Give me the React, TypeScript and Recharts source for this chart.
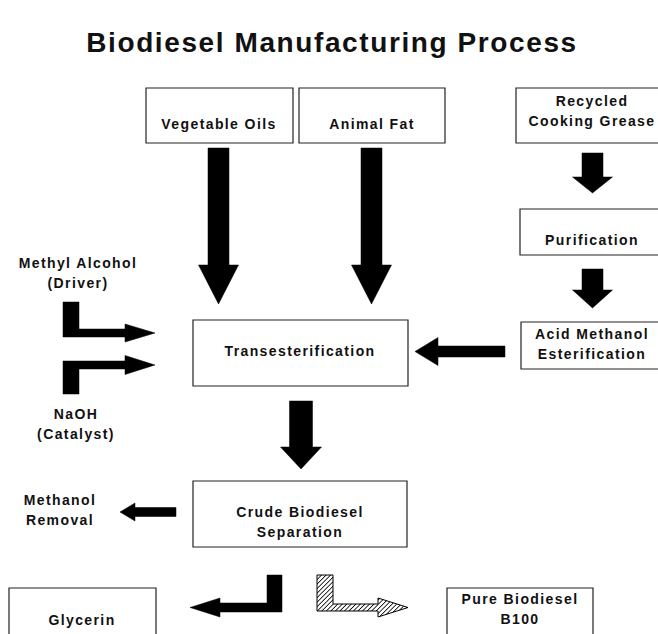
import React from 'react';
import { ScatterChart, Scatter, XAxis, YAxis, ReferenceArea, ReferenceDot } from 'recharts';

const W = 658;
const H = 634;

const title = 'Biodiesel Manufacturing Process';

// process boxes, page units with the origin top left
const boxes = [
  { id: 'veg', x1: 146, x2: 293, y1: 88, y2: 143 },
  { id: 'fat', x1: 299, x2: 445, y1: 88, y2: 143 },
  { id: 'grease', x1: 516, x2: 668, y1: 88, y2: 143 },
  { id: 'purif', x1: 520, x2: 668, y1: 209, y2: 255 },
  { id: 'acid', x1: 521, x2: 668, y1: 322, y2: 369 },
  { id: 'trans', x1: 193, x2: 408, y1: 320, y2: 386 },
  { id: 'crude', x1: 193, x2: 407, y1: 481, y2: 547 },
  { id: 'glyc', x1: 9, x2: 156, y1: 588, y2: 660 },
  { id: 'b100', x1: 447, x2: 593, y1: 588, y2: 660 },
];

// text blocks: x = centre, y = middle of the first line
const labels = [
  { lines: ['Vegetable Oils'], x: 219, y: 124 },
  { lines: ['Animal Fat'], x: 372, y: 124 },
  { lines: ['Recycled', 'Cooking Grease'], x: 592, y: 101 },
  { lines: ['Purification'], x: 592, y: 240 },
  { lines: ['Acid Methanol', 'Esterification'], x: 592, y: 334 },
  { lines: ['Transesterification'], x: 300, y: 351 },
  { lines: ['Crude Biodiesel', 'Separation'], x: 300, y: 512 },
  { lines: ['Glycerin'], x: 82, y: 620 },
  { lines: ['Pure Biodiesel', 'B100'], x: 520, y: 599 },
  { lines: ['Methyl Alcohol', '(Driver)'], x: 78, y: 263 },
  { lines: ['NaOH', '(Catalyst)'], x: 76, y: 414 },
  { lines: ['Methanol', 'Removal'], x: 60, y: 500 },
];

// straight block arrows: tail -> tip
const arrows = [
  { tail: [218.5, 148], tip: [218.5, 304], shaft: 21, head: 40, headLen: 39 },
  { tail: [371.5, 148], tip: [371.5, 304], shaft: 21, head: 40, headLen: 39 },
  { tail: [592.5, 153], tip: [592.5, 193], shaft: 21, head: 40, headLen: 16 },
  { tail: [592.5, 269], tip: [592.5, 308], shaft: 21, head: 40, headLen: 18 },
  { tail: [505, 351.5], tip: [415, 351.5], shaft: 11, head: 28, headLen: 23 },
  { tail: [301, 401], tip: [301, 469], shaft: 23, head: 41, headLen: 22 },
  { tail: [176, 512], tip: [120, 512], shaft: 9, head: 18, headLen: 15 },
];

// elbow arrows: a vertical bar, then a horizontal arrow along its top or bottom
const elbows = [
  { barX: 71, barW: 16, top: 302, bottom: 337, align: 'bottom', shaft: 8, tipX: 155, head: 18, headLen: 30, hatch: false },
  { barX: 71, barW: 16, top: 361, bottom: 394, align: 'top', shaft: 8, tipX: 155, head: 19, headLen: 30, hatch: false },
  { barX: 274.5, barW: 15, top: 575, bottom: 612, align: 'bottom', shaft: 9, tipX: 190, head: 19, headLen: 30, hatch: false },
  { barX: 325, barW: 16, top: 575, bottom: 611, align: 'bottom', shaft: 7, tipX: 408, head: 19, headLen: 30, hatch: true },
];

type Pt = { x: number; y: number };

const straightPoints = (a: any): Pt[] => {
  const dx = a.tip[0] - a.tail[0];
  const dy = a.tip[1] - a.tail[1];
  const len = Math.hypot(dx, dy);
  const ux = dx / len, uy = dy / len;
  const nx = -uy, ny = ux;
  const bx = a.tip[0] - ux * a.headLen, by = a.tip[1] - uy * a.headLen;
  const s = a.shaft / 2, h = a.head / 2;
  return [
    { x: a.tail[0] + nx * s, y: a.tail[1] + ny * s },
    { x: bx + nx * s, y: by + ny * s },
    { x: bx + nx * h, y: by + ny * h },
    { x: a.tip[0], y: a.tip[1] },
    { x: bx - nx * h, y: by - ny * h },
    { x: bx - nx * s, y: by - ny * s },
    { x: a.tail[0] - nx * s, y: a.tail[1] - ny * s },
  ];
};

const elbowPoints = (e: any): Pt[] => {
  const dir = Math.sign(e.tipX - e.barX);
  const outer = e.barX - (dir * e.barW) / 2;
  const inner = e.barX + (dir * e.barW) / 2;
  const base = e.tipX - dir * e.headLen;
  if (e.align === 'bottom') {
    const yc = e.bottom - e.shaft / 2;
    return [
      { x: outer, y: e.top },
      { x: inner, y: e.top },
      { x: inner, y: e.bottom - e.shaft },
      { x: base, y: e.bottom - e.shaft },
      { x: base, y: yc - e.head / 2 },
      { x: e.tipX, y: yc },
      { x: base, y: yc + e.head / 2 },
      { x: base, y: e.bottom },
      { x: outer, y: e.bottom },
    ];
  }
  const yc = e.top + e.shaft / 2;
  return [
    { x: outer, y: e.top },
    { x: base, y: e.top },
    { x: base, y: yc - e.head / 2 },
    { x: e.tipX, y: yc },
    { x: base, y: yc + e.head / 2 },
    { x: base, y: e.top + e.shaft },
    { x: inner, y: e.top + e.shaft },
    { x: inner, y: e.bottom },
    { x: outer, y: e.bottom },
  ];
};

const FONT = '"Liberation Sans", Arial, sans-serif';

// the scatter "line" gets the scaled points, we close them into a filled shape
const polygon = (hatch: boolean) => (p: any) => {
  const pts: Pt[] = p.points || [];
  const d = pts.map((q, i) => `${i ? 'L' : 'M'}${q.x},${q.y}`).join(' ') + ' Z';
  if (!hatch) return <path d={d} fill="#000" stroke="#000" strokeWidth={0.5} />;
  return (
    <g>
      <defs>
        <pattern id="hatch" width="3.2" height="3.2" patternUnits="userSpaceOnUse" patternTransform="rotate(45)">
          <rect width="3.2" height="3.2" fill="#fff" />
          <line x1="0" y1="0" x2="0" y2="3.2" stroke="#000" strokeWidth={1.6} />
        </pattern>
      </defs>
      <path d={d} fill="url(#hatch)" stroke="#000" strokeWidth={1} />
    </g>
  );
};

const TextBlock = ({ cx, cy, lines, size = 14, spacing = 1.4, gap = 20 }: any) => (
  <g>
    {lines.map((t: string, i: number) => (
      <text
        key={i}
        x={cx}
        y={cy + i * gap}
        textAnchor="middle"
        dominantBaseline="central"
        fontFamily={FONT}
        fontWeight="bold"
        fontSize={size}
        letterSpacing={spacing}
        fill="#111"
      >
        {t}
      </text>
    ))}
  </g>
);

const App: React.FC = () => {
  return (
    <div style={{ position: 'absolute', left: 0, top: 0, background: '#fff' }}>
      <ScatterChart width={W} height={H} margin={{ top: 0, right: 0, bottom: 0, left: 0 }}>
        <XAxis type="number" dataKey="x" domain={[0, W]} allowDataOverflow hide />
        <YAxis type="number" dataKey="y" domain={[0, H]} allowDataOverflow reversed hide />

        {boxes.map((b) => (
          <ReferenceArea
            key={b.id}
            x1={b.x1}
            x2={b.x2}
            y1={b.y1}
            y2={b.y2}
            ifOverflow="visible"
            fill="#fff"
            fillOpacity={1}
            stroke="#222"
            strokeWidth={1.2}
          />
        ))}

        {arrows.map((a, i) => (
          <Scatter
            key={`a${i}`}
            data={straightPoints(a)}
            line={polygon(false)}
            lineType="joint"
            shape={() => <g />}
            isAnimationActive={false}
          />
        ))}

        {elbows.map((e, i) => (
          <Scatter
            key={`e${i}`}
            data={elbowPoints(e)}
            line={polygon(e.hatch)}
            lineType="joint"
            shape={() => <g />}
            isAnimationActive={false}
          />
        ))}

        {labels.map((l, i) => (
          <ReferenceDot
            key={`l${i}`}
            x={l.x}
            y={l.y}
            ifOverflow="visible"
            shape={(p: any) => <TextBlock cx={p.cx} cy={p.cy} lines={l.lines} />}
          />
        ))}

        <ReferenceDot
          x={332}
          y={42}
          ifOverflow="visible"
          shape={(p: any) => <TextBlock cx={p.cx} cy={p.cy} lines={[title]} size={28} spacing={1.6} />}
        />
      </ScatterChart>
    </div>
  );
};

export default App;
